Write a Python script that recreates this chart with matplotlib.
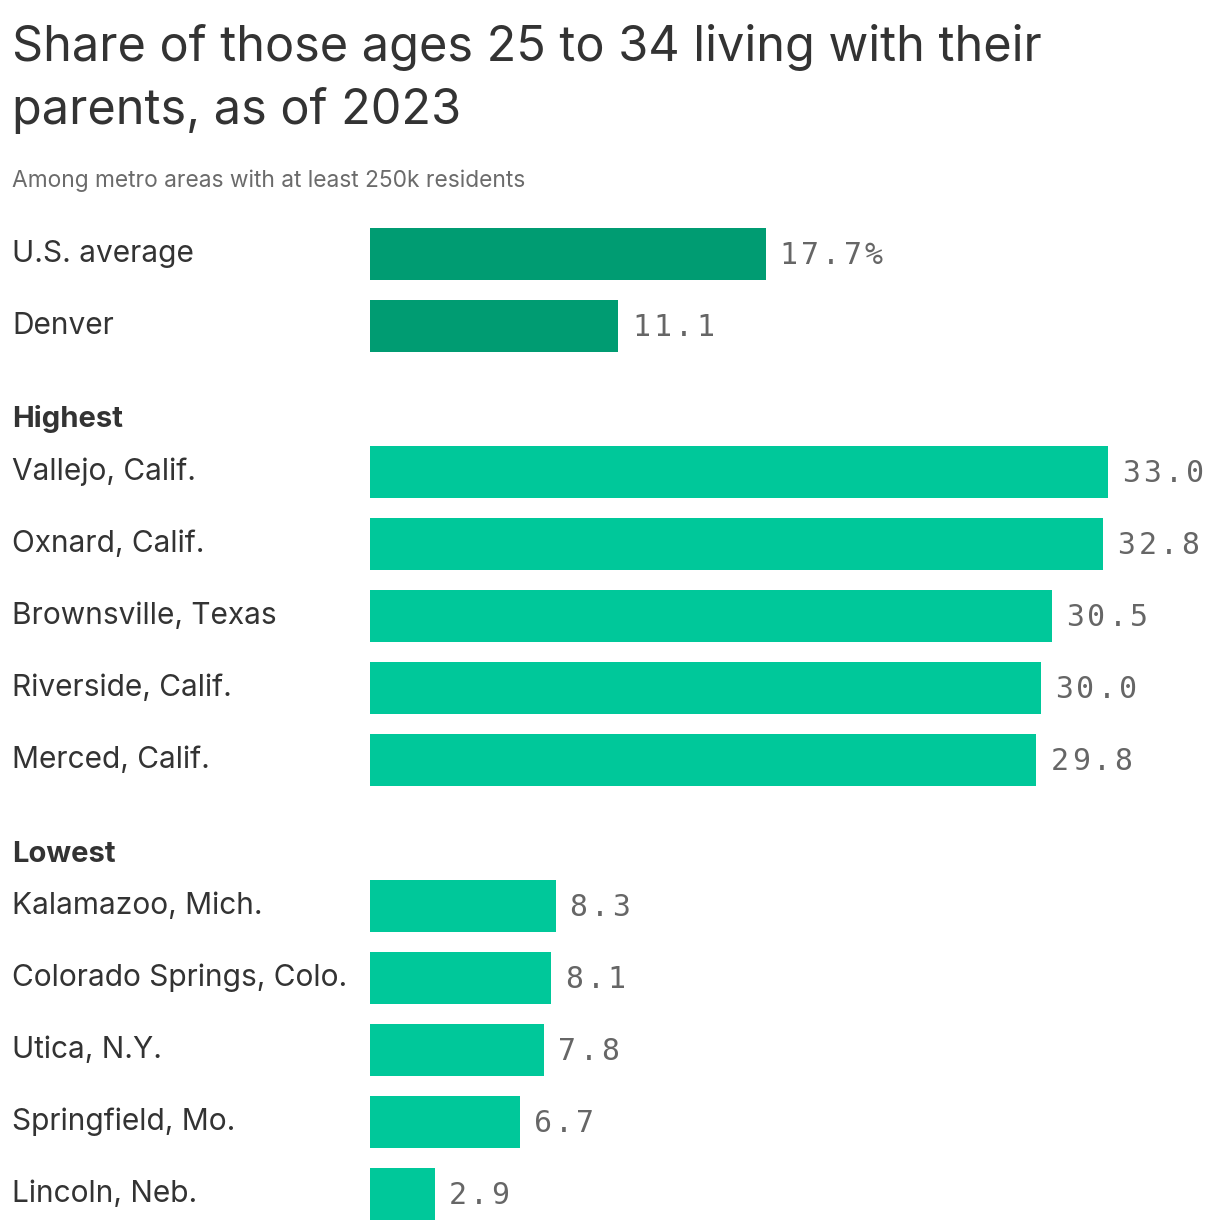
import matplotlib
matplotlib.use("Agg")
import matplotlib.pyplot as plt
from matplotlib.transforms import blended_transform_factory

top_labels = ["U.S. average", "Denver"]
top_values = [17.7, 11.1]
high_labels = ["Vallejo, Calif.", "Oxnard, Calif.", "Brownsville, Texas", "Riverside, Calif.", "Merced, Calif."]
high_values = [33.0, 32.8, 30.5, 30.0, 29.8]
low_labels = ["Kalamazoo, Mich.", "Colorado Springs, Colo.", "Utica, N.Y.", "Springfield, Mo.", "Lincoln, Neb."]
low_values = [8.3, 8.1, 7.8, 6.7, 2.9]
headers = ["Highest", "Lowest"]

title = "Share of those ages 25 to 34 living with their\nparents, as of 2023"
subtitle = "Among metro areas with at least 250k residents"

DARK = "#009c72"
LIGHT = "#00c89a"
TEXT = "#333333"
VAL = "#666666"
SANS = ["Inter", "DejaVu Sans"]
MONO = ["DejaVu Sans Mono"]

W, H = 1220, 1230
fig = plt.figure(figsize=(W / 100, H / 100), dpi=100)

ax_top_px, ax_bot_px = 200, 1230
ax = fig.add_axes([370 / W, 0, 850 / W, (ax_bot_px - ax_top_px) / H])
px_per_unit = 22.36
pitch = 72.0
center0 = 254.0
def px_to_idx(p):
    return (p - center0) / pitch
ax.set_ylim(px_to_idx(ax_bot_px), px_to_idx(ax_top_px))
ax.set_xlim(0, 850 / px_per_unit)
ax.axis("off")

gap = 2.0 / pitch
pos_top = [0, 1]
pos_high = [3 + gap + i for i in range(5)]
pos_low = [9 + 2 * gap + i for i in range(5)]
hdr_pos = [2 + gap + 0.27, 8 + 2 * gap + 0.28]

bh = 52 / pitch
trans = blended_transform_factory(fig.transFigure, ax.transData)
ADV_PT = 21.3 * 0.72  # per-character advance (px -> pt)
START_PT = 14 * 0.72

def draw(labels, values, pos, color, first_pct=False):
    ax.barh(pos, values, height=bh, color=color, edgecolor="none")
    for j, (lab, v, p) in enumerate(zip(labels, values, pos)):
        ax.text(12 / W, p - 0.0, lab, transform=trans, ha="left", va="center",
                fontsize=21.5, color=TEXT, family=SANS)
        s = f"{v:.1f}" + ("%" if (first_pct and j == 0) else "")
        for k, ch in enumerate(s):
            ax.annotate(ch, xy=(v, p + 0.02), xytext=(START_PT + k * ADV_PT, 0),
                        textcoords="offset points", ha="left", va="center",
                        fontsize=21.5, color=VAL, family=MONO)

draw(top_labels, top_values, pos_top, DARK, first_pct=True)
draw(high_labels, high_values, pos_high, LIGHT)
draw(low_labels, low_values, pos_low, LIGHT)
for h, p in zip(headers, hdr_pos):
    ax.text(12 / W, p, h, transform=trans, ha="left", va="center",
            fontsize=21, color=TEXT, family=SANS, fontweight="bold")

fig.text(12 / W, 1 - 24 / H, title, ha="left", va="top", fontsize=35,
         color=TEXT, family=SANS, linespacing=1.42)
fig.text(12 / W, 1 - 181 / H, subtitle, ha="left", va="center", fontsize=16.4,
         color="#6b6b6b", family=SANS)

fig.savefig("out.png", dpi=100, facecolor="white")
